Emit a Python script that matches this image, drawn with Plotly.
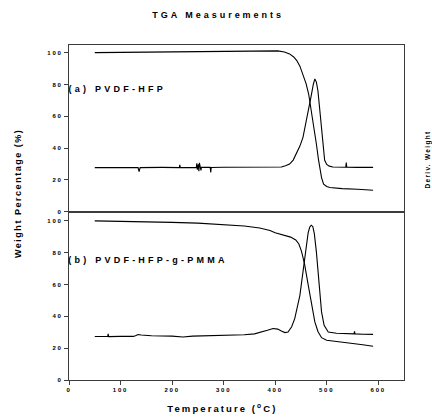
import plotly.graph_objects as go

# ---------------- data ----------------
# (a) PVDF-HFP : weight curve
temp_a_weight = [50, 100, 150, 200, 250, 300, 350, 390, 405, 418, 428, 436, 442, 448, 454, 460, 465,
                 470, 475, 480, 484, 487, 490, 494, 500, 506, 515, 530, 560, 590]
weight_a = [100.0, 100.2, 100.4, 100.5, 100.7, 100.9, 101.1, 101.2, 101.1, 100.4, 99.2, 97.3, 95.0,
            91.5, 86.6, 80.5, 74.0, 64.0, 53.5, 42.6, 33.0, 25.8, 21.5, 17.4, 15.9, 15.3, 15.0, 14.6,
            14.2, 13.6]
# (a) PVDF-HFP : derivative curve
temp_a_deriv = [50, 100, 134, 136, 138, 180, 214, 215, 216, 247, 248, 249, 251, 252, 253, 255, 256,
                257, 274, 275, 276, 300, 350, 400, 412, 420, 428, 435, 441, 448, 454, 460, 465, 470,
                474, 477, 480, 483, 486, 489, 492, 496, 500, 505, 512, 520, 537, 538, 539, 560, 590]
deriv_a = [27.8, 27.8, 27.8, 25.3, 27.8, 27.9, 27.8, 29.5, 27.8, 27.9, 30.5, 26.5, 29.8, 25.5, 30.8,
           27.8, 26.0, 27.9, 27.9, 24.8, 27.9, 28.0, 28.0, 28.0, 28.2, 29.0, 30.0, 32.5, 36.3, 41.3,
           46.8, 56.0, 64.5, 73.0, 80.0, 83.5, 81.5, 76.0, 66.0, 55.0, 42.0, 32.5, 29.8, 28.7, 28.2,
           28.0, 28.0, 31.0, 28.0, 27.9, 27.9]

# (b) PVDF-HFP-g-PMMA : weight curve
temp_b_weight = [50, 100, 150, 200, 250, 300, 340, 370, 390, 400, 415, 430, 440, 446, 451, 457, 464,
                 470, 477, 483, 490, 500, 520, 545, 570, 590]
weight_b = [100.0, 99.8, 99.5, 99.1, 98.6, 97.8, 96.8, 95.5, 94.0, 92.5, 91.0, 89.8, 88.0, 85.5,
            81.0, 73.0, 60.0, 48.0, 36.5, 30.5, 26.6, 25.0, 24.3, 23.3, 22.2, 21.2]
# (b) PVDF-HFP-g-PMMA : derivative curve
temp_b_deriv = [50, 75, 76, 77, 100, 125, 130, 134, 140, 160, 200, 221, 240, 280, 305, 340, 360, 375,
                385, 396, 405, 412, 419, 425, 432, 438, 443, 448, 454, 460, 464, 467, 470, 473, 476,
                480, 485, 490, 495, 503, 519, 553, 554, 555, 570, 590]
deriv_b = [27.3, 27.3, 29.0, 27.3, 27.4, 27.4, 28.0, 28.6, 28.3, 27.8, 27.6, 27.0, 27.6, 27.8, 28.0,
           28.4, 29.0, 30.2, 31.3, 32.4, 32.0, 30.8, 29.8, 30.2, 33.5, 38.6, 45.0, 53.2, 68.0, 84.5,
           92.5, 96.0, 97.3, 96.5, 92.0, 80.5, 60.0, 42.8, 34.4, 30.2, 29.4, 29.0, 30.5, 29.0, 28.8,
           28.7]

y_ticks = [0, 20, 40, 60, 80, 100]
x_ticks = [0, 100, 200, 300, 400, 500, 600]
right_ticks = [27.6, 55.2, 82.9]

title_text = "TGA Measurements"
x_title = "Temperature (<sup>o</sup>C)"
y_title = "Weight Percentage (%)"
right_title = "Deriv. Weight"
label_a = "(a) PVDF-HFP"
label_b = "(b) PVDF-HFP-g-PMMA"

# ---------------- figure ----------------
FONT = "Liberation Sans, Arial, sans-serif"
LINE = "#3c3c3c"
fig = go.Figure()

curve = dict(color="black", width=1.1)
fig.add_trace(go.Scatter(x=temp_a_weight, y=weight_a, mode="lines", line=curve, xaxis="x", yaxis="y",
                         showlegend=False, hoverinfo="skip"))
fig.add_trace(go.Scatter(x=temp_a_deriv, y=deriv_a, mode="lines", line=curve, xaxis="x", yaxis="y",
                         showlegend=False, hoverinfo="skip"))
fig.add_trace(go.Scatter(x=temp_b_weight, y=weight_b, mode="lines", line=curve, xaxis="x2", yaxis="y2",
                         showlegend=False, hoverinfo="skip"))
fig.add_trace(go.Scatter(x=temp_b_deriv, y=deriv_b, mode="lines", line=curve, xaxis="x2", yaxis="y2",
                         showlegend=False, hoverinfo="skip"))

tickfont = dict(family=FONT, size=6, color="black", weight="bold")
common_y = dict(ticks="outside", ticklen=4, tickwidth=1, tickcolor=LINE, tickvals=y_ticks,
                showline=True, linecolor=LINE, linewidth=1.2, mirror=True, showgrid=False,
                zeroline=False, tickfont=tickfont)
common_x = dict(range=[0, 650], showline=True, linecolor=LINE, linewidth=1.2, mirror=True,
                showgrid=False, zeroline=False)

fig.update_layout(
    width=432, height=417,
    margin=dict(l=69, r=28, t=45, b=37, autoexpand=False),
    paper_bgcolor="white", plot_bgcolor="white",
    font=dict(family=FONT, color="black"),
    xaxis=dict(anchor="y", domain=[0, 1], showticklabels=False, ticks="", **common_x),
    yaxis=dict(domain=[0.502, 1], range=[0, 104.8], anchor="x", **common_y),
    xaxis2=dict(anchor="y2", domain=[0, 1], ticks="outside", ticklen=4, tickcolor=LINE,
                tickvals=x_ticks, tickfont=tickfont, **common_x),
    yaxis2=dict(domain=[0, 0.502], range=[0, 105.7], anchor="x2", **common_y),
    yaxis3=dict(overlaying="y", side="right", anchor="x", range=[0, 104.8], tickvals=right_ticks,
                ticks="outside", ticklen=3, tickcolor=LINE, showticklabels=False, showgrid=False,
                zeroline=False, showline=False),
    yaxis4=dict(overlaying="y2", side="right", anchor="x2", range=[0, 105.7], tickvals=right_ticks,
                ticks="outside", ticklen=3, tickcolor=LINE, showticklabels=False, showgrid=False,
                zeroline=False, showline=False),
)

ann_font = lambda s: dict(family=FONT, size=s, color="black", weight="bold")
anns = [
    dict(text=title_text, x=0.4433, y=1.0896, font=ann_font(9)),
    dict(text=x_title, x=0.4597, y=-0.0836, font=ann_font(9.5)),
    dict(text=y_title, x=-0.1522, y=0.5552, font=ann_font(9), textangle=-90),
    dict(text=right_title, x=1.0716, y=0.6597, font=ann_font(6.5), textangle=-90),
    dict(text=label_a, x=0.1448, y=0.8687, font=ann_font(9)),
    dict(text=label_b, x=0.2358, y=0.3582, font=ann_font(9)),
]
for a in anns:
    fig.add_annotation(xref="paper", yref="paper", showarrow=False, xanchor="center",
                       yanchor="middle", **a)

post = """
document.body.style.margin = '0';
document.body.style.padding = '0';
var gd = document.getElementById('{plot_id}');
function spacing(){
  var sp = ['0.33em','0.22em','0.17em','0.2em','0.36em','0.36em'];
  gd.querySelectorAll('.annotation-text').forEach(function(t,i){
    if (i < sp.length) { t.style.letterSpacing = sp[i]; }
  });
  gd.querySelectorAll('.xtick text, .ytick text, .x2tick text, .y2tick text').forEach(function(t){
    t.style.letterSpacing = '0.3em';
  });
}
spacing();
gd.on('plotly_afterplot', spacing);
"""
fig.write_html("out.html", post_script=post, config={"displayModeBar": False})
